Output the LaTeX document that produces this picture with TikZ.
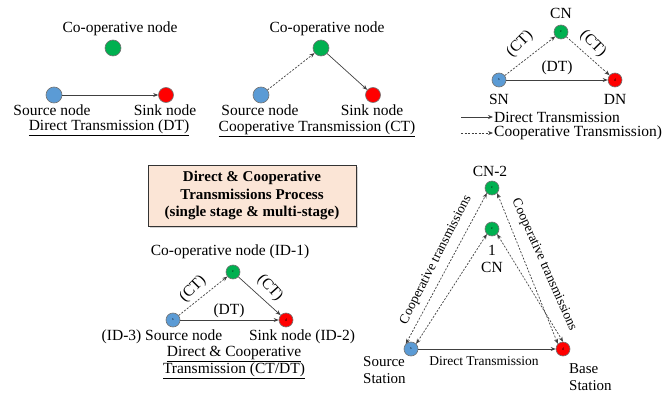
\documentclass[tikz,border=0pt]{standalone}
\usepackage{fontspec}
\setmainfont{Liberation Serif}
\usetikzlibrary{arrows.meta,shadows}
\definecolor{bN}{HTML}{5B9BD5}
\definecolor{gN}{HTML}{00B050}
\definecolor{rN}{HTML}{FF0000}
\definecolor{peach}{HTML}{FBE5D6}
\tikzset{
  nd/.style={circle, draw=black!55, line width=0.6pt, minimum size=14pt, inner sep=0pt, font=\fontsize{4}{4}\selectfont},
  bignd/.style={nd, minimum size=16pt},
  lbl/.style={font=\fontsize{15.5}{17}\selectfont, inner sep=0pt},
  small/.style={font=\fontsize{13.5}{15}\selectfont, inner sep=0pt},
  dt/.style={-{Stealth[length=5pt,width=4pt]}, black!75, line width=0.7pt},
  ct/.style={dt, dash pattern=on 2pt off 1.5pt},
  ctb/.style={{Stealth[length=5pt,width=4pt]}-{Stealth[length=5pt,width=4pt]}, black!75, line width=0.7pt, dash pattern=on 2pt off 1.5pt}
}
\begin{document}
\begin{tikzpicture}[x=1pt,y=-1pt]
\useasboundingbox (0,0) rectangle (665,396);
% Panel 1: DT
\node[lbl] (l1) at (120,29) {Co-operative node};
\node[bignd, fill=gN] (c1) at (113,48) {};
\node[bignd, fill=bN] (s1) at (54,95) {};
\node[bignd, fill=rN, minimum size=15pt] (d1) at (166,95) {};
\draw[dt] (s1) -- (d1);
\node[lbl] (ls1) at (52,110) {Source node};
\node[lbl] (ld1) at (165,110) {Sink node};
\node[lbl] (t1) at (109,128) {\underline{Direct Transmission (DT)}};
% Panel 2: CT
\node[lbl] (l2) at (327,29) {Co-operative node};
\node[bignd, fill=gN] (c2) at (321,48) {};
\node[bignd, fill=bN] (s2) at (261,95) {};
\node[bignd, fill=rN, minimum size=15pt] (d2) at (373,95) {};
\draw[ct] (s2) -- (c2);
\draw[dt] (c2) -- (d2);
\node[lbl] (ls2) at (260,110) {Source node};
\node[lbl] (ld2) at (372,110) {Sink node};
\node[lbl] (t2) at (317,129) {\underline{Cooperative Transmission (CT)}};
% Panel 3
\node[lbl] (l3) at (561,13) {CN};
\node[nd, fill=gN] (c3) at (561,32) {c};
\node[nd, fill=bN] (s3) at (499,80) {s};
\node[nd, fill=rN] (d3) at (615,80) {d};
\draw[ct] (s3) -- (c3);
\draw[ct] (c3) -- (d3);
\draw[dt] (s3) -- (d3);
\node[lbl, rotate=45] (ct3a) at (520,44) {(CT)};
\node[lbl, rotate=-45] (ct3b) at (593,44) {(CT)};
\node[lbl] (dt3) at (557,68) {(DT)};
\node[lbl] (sn3) at (499,99) {SN};
\node[lbl] (dn3) at (615,99) {DN};
\coordinate (la1) at (461,117);
\coordinate (la2) at (493,117);
\coordinate (lb1) at (461,133);
\coordinate (lb2) at (493,133);
\draw[dt] (la1) -- (la2);
\draw[ct] (lb1) -- (lb2);
\node[lbl, anchor=west] (lga) at (494,117) {Direct Transmission};
\node[lbl, anchor=west] (lgb) at (494,133) {Cooperative Transmission)};
% Central box
\node[draw=black!80, line width=1pt, fill=peach, minimum width=208pt, minimum height=61pt,
  align=center, font=\fontsize{15}{17.5}\selectfont\bfseries, inner sep=0pt,
  drop shadow={shadow xshift=1.5pt, shadow yshift=-1.5pt, opacity=0.35}] (box) at (252,195.5)
  {Direct \& Cooperative\\Transmissions Process\\(single stage \& multi-stage)};
% Panel 4
\node[lbl] (l4) at (230,252) {Co-operative node (ID-1)};
\node[nd, fill=gN] (c4) at (233,272) {c};
\node[nd, fill=bN] (s4) at (173,320) {s};
\node[nd, fill=rN] (d4) at (286,320) {d};
\draw[ct] (s4) -- (c4);
\draw[dt] (c4) -- (d4);
\draw[dt] (s4) -- (d4);
\node[lbl, rotate=45] (ct4a) at (193,289) {(CT)};
\node[lbl, rotate=-48] (ct4b) at (270,288) {(CT)};
\node[lbl] (dt4) at (229,311) {(DT)};
\node[lbl] (ls4) at (162,337) {(ID-3) Source node};
\node[lbl] (ld4) at (302,337) {Sink node (ID-2)};
\node[lbl] (t4a) at (234,354) {\underline{Direct \& Cooperative}};
\node[lbl] (t4b) at (234,371) {\underline{Transmission (CT/DT)}};
% Panel 5
\node[lbl] (l5) at (490,171) {CN-2};
\node[nd, fill=gN] (c5b) at (492,188) {c};
\node[nd, fill=gN] (c5a) at (492,229) {c};
\node[lbl] (n1) at (492,250) {1};
\node[lbl] (ncn) at (492,267) {CN};
\node[nd, fill=bN] (s5) at (411,349) {s};
\node[nd, fill=rN] (d5) at (563,349) {d};
\draw[dt] (s5) -- (d5);
\draw[ctb] (s5.north west) -- (c5b.south west);
\draw[ctb] (s5.north east) -- (c5a.south west);
\draw[ctb] (c5b.south east) -- (d5.north west);
\draw[ctb] (c5a.south east) -- (d5.north);
\node[small] (dt5) at (484,361) {Direct Transmission};
\node[small, rotate=63] (ct5a) at (436,260) {Cooperative transmissions};
\node[small, rotate=-66] (ct5b) at (544,265) {Cooperative transmissions};
\node[lbl, anchor=north west, align=left, font=\fontsize{15}{17}\selectfont] (ss5) at (363,356) {Source\\Station};
\node[lbl, anchor=north west, align=left, font=\fontsize{15}{17}\selectfont] (bs5) at (569,363) {Base\\Station};
\end{tikzpicture}
\end{document}
